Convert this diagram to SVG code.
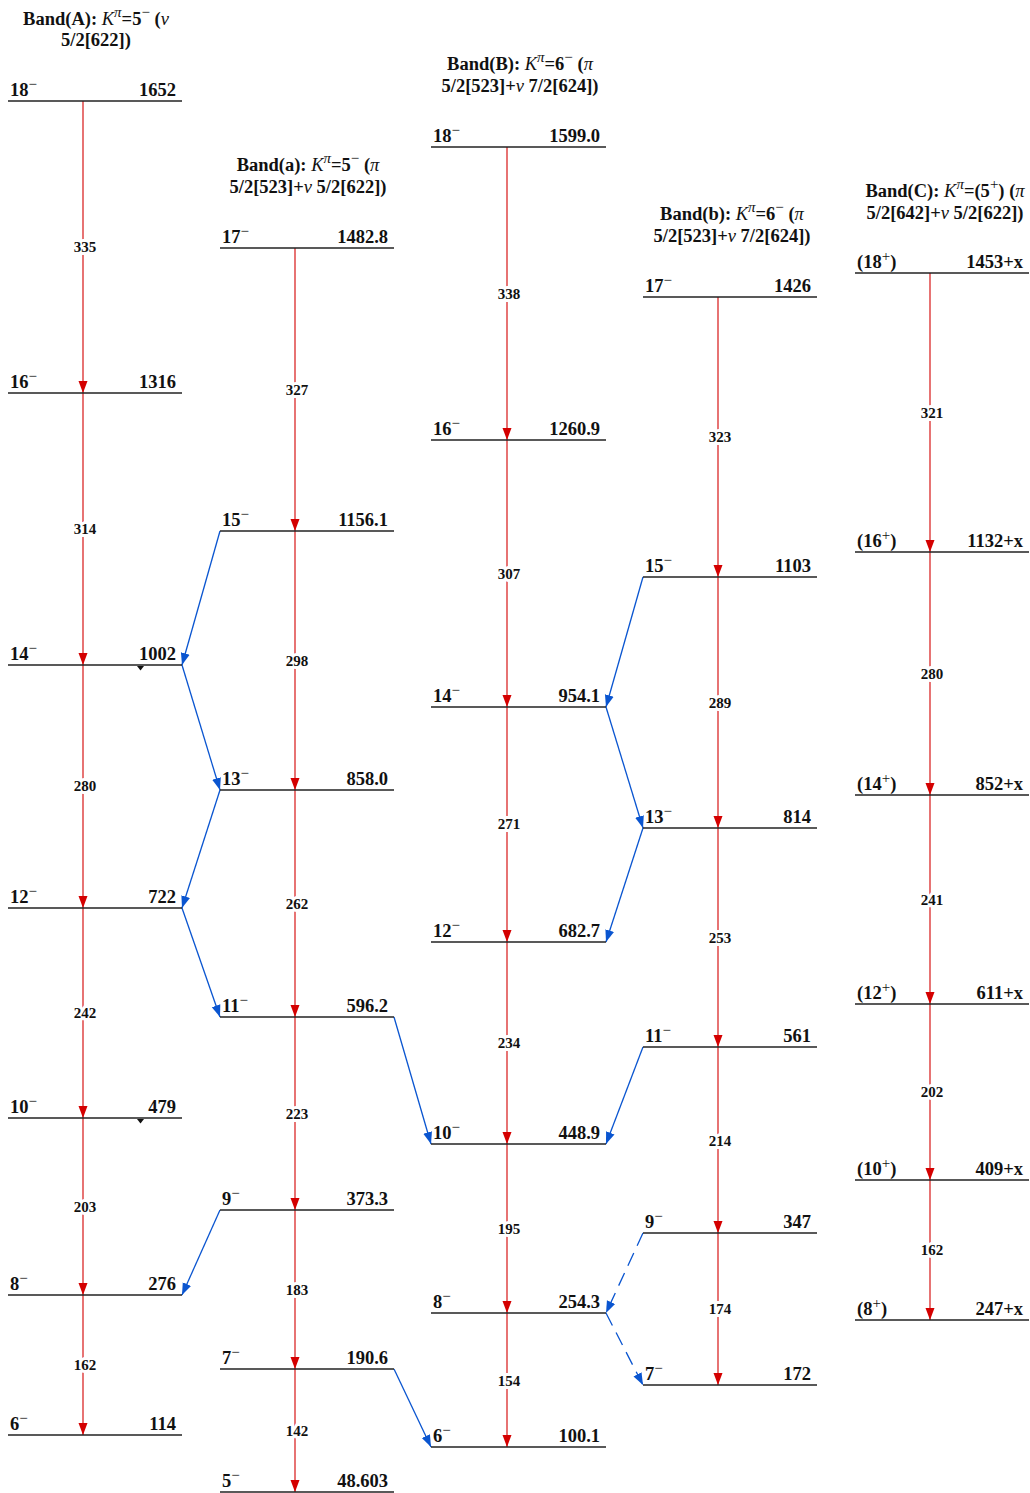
<svg xmlns="http://www.w3.org/2000/svg" width="1030" height="1493" viewBox="0 0 1030 1493">
<defs>
<marker id="ar" markerUnits="userSpaceOnUse" markerWidth="13" markerHeight="11" refX="12" refY="5.5" orient="auto"><path d="M0,1 L12,5.5 L0,10 z" fill="#d40000"/></marker>
<marker id="ab" markerUnits="userSpaceOnUse" markerWidth="13" markerHeight="11" refX="12" refY="5.5" orient="auto"><path d="M0,1 L12,5.5 L0,10 z" fill="#0a55d0"/></marker>
</defs>
<style>
text{font-family:"Liberation Serif","Times New Roman",serif;font-weight:bold;fill:#111}
.h{font-size:18.5px;text-anchor:middle}
.sp{font-size:18.5px}
.en{font-size:18.5px;text-anchor:end}
.tr{font-size:15px;text-anchor:middle;stroke:#fff;stroke-width:6px;paint-order:stroke;stroke-linejoin:round}
.s{font-size:15px;font-weight:normal}
.lv{stroke:#222;stroke-width:1.3}
.r{stroke:#d40000;stroke-width:1.1;fill:none;marker-end:url(#ar)}
.b{stroke:#0a55d0;stroke-width:1.3;fill:none;marker-end:url(#ab)}
.d{stroke-dasharray:14,8}
.i{font-style:italic;font-weight:normal}
</style>

<g id="headers">
<text class="h" x="96" y="25">Band(A): <tspan class="i">K</tspan><tspan class="i" font-size="15" dy="-8">π</tspan><tspan dy="8">=5</tspan><tspan class="s" dy="-8">−</tspan><tspan dy="8"> (</tspan><tspan class="i">ν</tspan></text>
<text class="h" x="96" y="46">5/2[622])</text>
<text class="h" x="308" y="171">Band(a): <tspan class="i">K</tspan><tspan class="i" font-size="15" dy="-8">π</tspan><tspan dy="8">=5</tspan><tspan class="s" dy="-8">−</tspan><tspan dy="8"> (</tspan><tspan class="i">π</tspan></text>
<text class="h" x="308" y="193">5/2[523]+<tspan class="i">ν</tspan> 5/2[622])</text>
<text class="h" x="520" y="70">Band(B): <tspan class="i">K</tspan><tspan class="i" font-size="15" dy="-8">π</tspan><tspan dy="8">=6</tspan><tspan class="s" dy="-8">−</tspan><tspan dy="8"> (</tspan><tspan class="i">π</tspan></text>
<text class="h" x="520" y="92">5/2[523]+<tspan class="i">ν</tspan> 7/2[624])</text>
<text class="h" x="732" y="220">Band(b): <tspan class="i">K</tspan><tspan class="i" font-size="15" dy="-8">π</tspan><tspan dy="8">=6</tspan><tspan class="s" dy="-8">−</tspan><tspan dy="8"> (</tspan><tspan class="i">π</tspan></text>
<text class="h" x="732" y="242">5/2[523]+<tspan class="i">ν</tspan> 7/2[624])</text>
<text class="h" x="945" y="197">Band(C): <tspan class="i">K</tspan><tspan class="i" font-size="15" dy="-8">π</tspan><tspan dy="8">=(5</tspan><tspan class="s" dy="-8">+</tspan><tspan dy="8">) (</tspan><tspan class="i">π</tspan></text>
<text class="h" x="945" y="219">5/2[642]+<tspan class="i">ν</tspan> 5/2[622])</text>
</g>

<g id="connectors">
<line class="r" x1="83" y1="101" x2="83" y2="393"/>
<line class="r" x1="83" y1="393" x2="83" y2="665"/>
<line class="r" x1="83" y1="665" x2="83" y2="908"/>
<line class="r" x1="83" y1="908" x2="83" y2="1118"/>
<line class="r" x1="83" y1="1118" x2="83" y2="1295"/>
<line class="r" x1="83" y1="1295" x2="83" y2="1435"/>
<line class="r" x1="295" y1="248" x2="295" y2="531"/>
<line class="r" x1="295" y1="531" x2="295" y2="790"/>
<line class="r" x1="295" y1="790" x2="295" y2="1017"/>
<line class="r" x1="295" y1="1017" x2="295" y2="1210"/>
<line class="r" x1="295" y1="1210" x2="295" y2="1369"/>
<line class="r" x1="295" y1="1369" x2="295" y2="1492"/>
<line class="r" x1="507" y1="147" x2="507" y2="440"/>
<line class="r" x1="507" y1="440" x2="507" y2="707"/>
<line class="r" x1="507" y1="707" x2="507" y2="942"/>
<line class="r" x1="507" y1="942" x2="507" y2="1144"/>
<line class="r" x1="507" y1="1144" x2="507" y2="1313"/>
<line class="r" x1="507" y1="1313" x2="507" y2="1447"/>
<line class="r" x1="718" y1="297" x2="718" y2="577"/>
<line class="r" x1="718" y1="577" x2="718" y2="828"/>
<line class="r" x1="718" y1="828" x2="718" y2="1047"/>
<line class="r" x1="718" y1="1047" x2="718" y2="1233"/>
<line class="r" x1="718" y1="1233" x2="718" y2="1385"/>
<line class="r" x1="930" y1="273" x2="930" y2="552"/>
<line class="r" x1="930" y1="552" x2="930" y2="795"/>
<line class="r" x1="930" y1="795" x2="930" y2="1004"/>
<line class="r" x1="930" y1="1004" x2="930" y2="1180"/>
<line class="r" x1="930" y1="1180" x2="930" y2="1320"/>
<line class="b" x1="220" y1="531" x2="182" y2="665"/>
<line class="b" x1="182" y1="665" x2="220" y2="790"/>
<line class="b" x1="220" y1="790" x2="182" y2="908"/>
<line class="b" x1="182" y1="908" x2="220" y2="1017"/>
<line class="b" x1="220" y1="1210" x2="182" y2="1295"/>
<line class="b" x1="394" y1="1017" x2="431" y2="1144"/>
<line class="b" x1="394" y1="1369" x2="431" y2="1447"/>
<line class="b" x1="643" y1="577" x2="606" y2="707"/>
<line class="b" x1="606" y1="707" x2="643" y2="828"/>
<line class="b" x1="643" y1="828" x2="606" y2="942"/>
<line class="b" x1="643" y1="1047" x2="606" y2="1144"/>
<line class="b d" x1="643" y1="1233" x2="606" y2="1313"/>
<line class="b d" x1="606" y1="1313" x2="643" y2="1385"/>
<path d="M137,666 L144,666 L140.5,670.5 z" fill="#111"/>
<path d="M137,1119 L144,1119 L140.5,1123.5 z" fill="#111"/>
</g>

<g id="transition-labels">
<text class="tr" x="85" y="252">335</text>
<text class="tr" x="85" y="534">314</text>
<text class="tr" x="85" y="791">280</text>
<text class="tr" x="85" y="1018">242</text>
<text class="tr" x="85" y="1212">203</text>
<text class="tr" x="85" y="1370">162</text>
<text class="tr" x="297" y="395">327</text>
<text class="tr" x="297" y="666">298</text>
<text class="tr" x="297" y="909">262</text>
<text class="tr" x="297" y="1119">223</text>
<text class="tr" x="297" y="1295">183</text>
<text class="tr" x="297" y="1436">142</text>
<text class="tr" x="509" y="299">338</text>
<text class="tr" x="509" y="579">307</text>
<text class="tr" x="509" y="829">271</text>
<text class="tr" x="509" y="1048">234</text>
<text class="tr" x="509" y="1234">195</text>
<text class="tr" x="509" y="1386">154</text>
<text class="tr" x="720" y="442">323</text>
<text class="tr" x="720" y="708">289</text>
<text class="tr" x="720" y="943">253</text>
<text class="tr" x="720" y="1146">214</text>
<text class="tr" x="720" y="1314">174</text>
<text class="tr" x="932" y="418">321</text>
<text class="tr" x="932" y="679">280</text>
<text class="tr" x="932" y="905">241</text>
<text class="tr" x="932" y="1097">202</text>
<text class="tr" x="932" y="1255">162</text>
</g>

<g id="A18"><line class="lv" x1="8" y1="101" x2="182" y2="101"/><text class="sp" x="10" y="96">18<tspan class="s" dy="-7">−</tspan></text><text class="en" x="176" y="96">1652</text></g>
<g id="A16"><line class="lv" x1="8" y1="393" x2="182" y2="393"/><text class="sp" x="10" y="388">16<tspan class="s" dy="-7">−</tspan></text><text class="en" x="176" y="388">1316</text></g>
<g id="A14"><line class="lv" x1="8" y1="665" x2="182" y2="665"/><text class="sp" x="10" y="660">14<tspan class="s" dy="-7">−</tspan></text><text class="en" x="176" y="660">1002</text></g>
<g id="A12"><line class="lv" x1="8" y1="908" x2="182" y2="908"/><text class="sp" x="10" y="903">12<tspan class="s" dy="-7">−</tspan></text><text class="en" x="176" y="903">722</text></g>
<g id="A10"><line class="lv" x1="8" y1="1118" x2="182" y2="1118"/><text class="sp" x="10" y="1113">10<tspan class="s" dy="-7">−</tspan></text><text class="en" x="176" y="1113">479</text></g>
<g id="A8"><line class="lv" x1="8" y1="1295" x2="182" y2="1295"/><text class="sp" x="10" y="1290">8<tspan class="s" dy="-7">−</tspan></text><text class="en" x="176" y="1290">276</text></g>
<g id="A6"><line class="lv" x1="8" y1="1435" x2="182" y2="1435"/><text class="sp" x="10" y="1430">6<tspan class="s" dy="-7">−</tspan></text><text class="en" x="176" y="1430">114</text></g>

<g id="a17"><line class="lv" x1="220" y1="248" x2="394" y2="248"/><text class="sp" x="222" y="243">17<tspan class="s" dy="-7">−</tspan></text><text class="en" x="388" y="243">1482.8</text></g>
<g id="a15"><line class="lv" x1="220" y1="531" x2="394" y2="531"/><text class="sp" x="222" y="526">15<tspan class="s" dy="-7">−</tspan></text><text class="en" x="388" y="526">1156.1</text></g>
<g id="a13"><line class="lv" x1="220" y1="790" x2="394" y2="790"/><text class="sp" x="222" y="785">13<tspan class="s" dy="-7">−</tspan></text><text class="en" x="388" y="785">858.0</text></g>
<g id="a11"><line class="lv" x1="220" y1="1017" x2="394" y2="1017"/><text class="sp" x="222" y="1012">11<tspan class="s" dy="-7">−</tspan></text><text class="en" x="388" y="1012">596.2</text></g>
<g id="a9"><line class="lv" x1="220" y1="1210" x2="394" y2="1210"/><text class="sp" x="222" y="1205">9<tspan class="s" dy="-7">−</tspan></text><text class="en" x="388" y="1205">373.3</text></g>
<g id="a7"><line class="lv" x1="220" y1="1369" x2="394" y2="1369"/><text class="sp" x="222" y="1364">7<tspan class="s" dy="-7">−</tspan></text><text class="en" x="388" y="1364">190.6</text></g>
<g id="a5"><line class="lv" x1="220" y1="1492" x2="394" y2="1492"/><text class="sp" x="222" y="1487">5<tspan class="s" dy="-7">−</tspan></text><text class="en" x="388" y="1487">48.603</text></g>

<g id="B18"><line class="lv" x1="431" y1="147" x2="606" y2="147"/><text class="sp" x="433" y="142">18<tspan class="s" dy="-7">−</tspan></text><text class="en" x="600" y="142">1599.0</text></g>
<g id="B16"><line class="lv" x1="431" y1="440" x2="606" y2="440"/><text class="sp" x="433" y="435">16<tspan class="s" dy="-7">−</tspan></text><text class="en" x="600" y="435">1260.9</text></g>
<g id="B14"><line class="lv" x1="431" y1="707" x2="606" y2="707"/><text class="sp" x="433" y="702">14<tspan class="s" dy="-7">−</tspan></text><text class="en" x="600" y="702">954.1</text></g>
<g id="B12"><line class="lv" x1="431" y1="942" x2="606" y2="942"/><text class="sp" x="433" y="937">12<tspan class="s" dy="-7">−</tspan></text><text class="en" x="600" y="937">682.7</text></g>
<g id="B10"><line class="lv" x1="431" y1="1144" x2="606" y2="1144"/><text class="sp" x="433" y="1139">10<tspan class="s" dy="-7">−</tspan></text><text class="en" x="600" y="1139">448.9</text></g>
<g id="B8"><line class="lv" x1="431" y1="1313" x2="606" y2="1313"/><text class="sp" x="433" y="1308">8<tspan class="s" dy="-7">−</tspan></text><text class="en" x="600" y="1308">254.3</text></g>
<g id="B6"><line class="lv" x1="431" y1="1447" x2="606" y2="1447"/><text class="sp" x="433" y="1442">6<tspan class="s" dy="-7">−</tspan></text><text class="en" x="600" y="1442">100.1</text></g>

<g id="b17"><line class="lv" x1="643" y1="297" x2="817" y2="297"/><text class="sp" x="645" y="292">17<tspan class="s" dy="-7">−</tspan></text><text class="en" x="811" y="292">1426</text></g>
<g id="b15"><line class="lv" x1="643" y1="577" x2="817" y2="577"/><text class="sp" x="645" y="572">15<tspan class="s" dy="-7">−</tspan></text><text class="en" x="811" y="572">1103</text></g>
<g id="b13"><line class="lv" x1="643" y1="828" x2="817" y2="828"/><text class="sp" x="645" y="823">13<tspan class="s" dy="-7">−</tspan></text><text class="en" x="811" y="823">814</text></g>
<g id="b11"><line class="lv" x1="643" y1="1047" x2="817" y2="1047"/><text class="sp" x="645" y="1042">11<tspan class="s" dy="-7">−</tspan></text><text class="en" x="811" y="1042">561</text></g>
<g id="b9"><line class="lv" x1="643" y1="1233" x2="817" y2="1233"/><text class="sp" x="645" y="1228">9<tspan class="s" dy="-7">−</tspan></text><text class="en" x="811" y="1228">347</text></g>
<g id="b7"><line class="lv" x1="643" y1="1385" x2="817" y2="1385"/><text class="sp" x="645" y="1380">7<tspan class="s" dy="-7">−</tspan></text><text class="en" x="811" y="1380">172</text></g>

<g id="C18"><line class="lv" x1="855" y1="273" x2="1029" y2="273"/><text class="sp" x="857" y="268">(18<tspan class="s" dy="-7">+</tspan><tspan dy="7">)</tspan></text><text class="en" x="1023" y="268">1453+x</text></g>
<g id="C16"><line class="lv" x1="855" y1="552" x2="1029" y2="552"/><text class="sp" x="857" y="547">(16<tspan class="s" dy="-7">+</tspan><tspan dy="7">)</tspan></text><text class="en" x="1023" y="547">1132+x</text></g>
<g id="C14"><line class="lv" x1="855" y1="795" x2="1029" y2="795"/><text class="sp" x="857" y="790">(14<tspan class="s" dy="-7">+</tspan><tspan dy="7">)</tspan></text><text class="en" x="1023" y="790">852+x</text></g>
<g id="C12"><line class="lv" x1="855" y1="1004" x2="1029" y2="1004"/><text class="sp" x="857" y="999">(12<tspan class="s" dy="-7">+</tspan><tspan dy="7">)</tspan></text><text class="en" x="1023" y="999">611+x</text></g>
<g id="C10"><line class="lv" x1="855" y1="1180" x2="1029" y2="1180"/><text class="sp" x="857" y="1175">(10<tspan class="s" dy="-7">+</tspan><tspan dy="7">)</tspan></text><text class="en" x="1023" y="1175">409+x</text></g>
<g id="C8"><line class="lv" x1="855" y1="1320" x2="1029" y2="1320"/><text class="sp" x="857" y="1315">(8<tspan class="s" dy="-7">+</tspan><tspan dy="7">)</tspan></text><text class="en" x="1023" y="1315">247+x</text></g>
</svg>
